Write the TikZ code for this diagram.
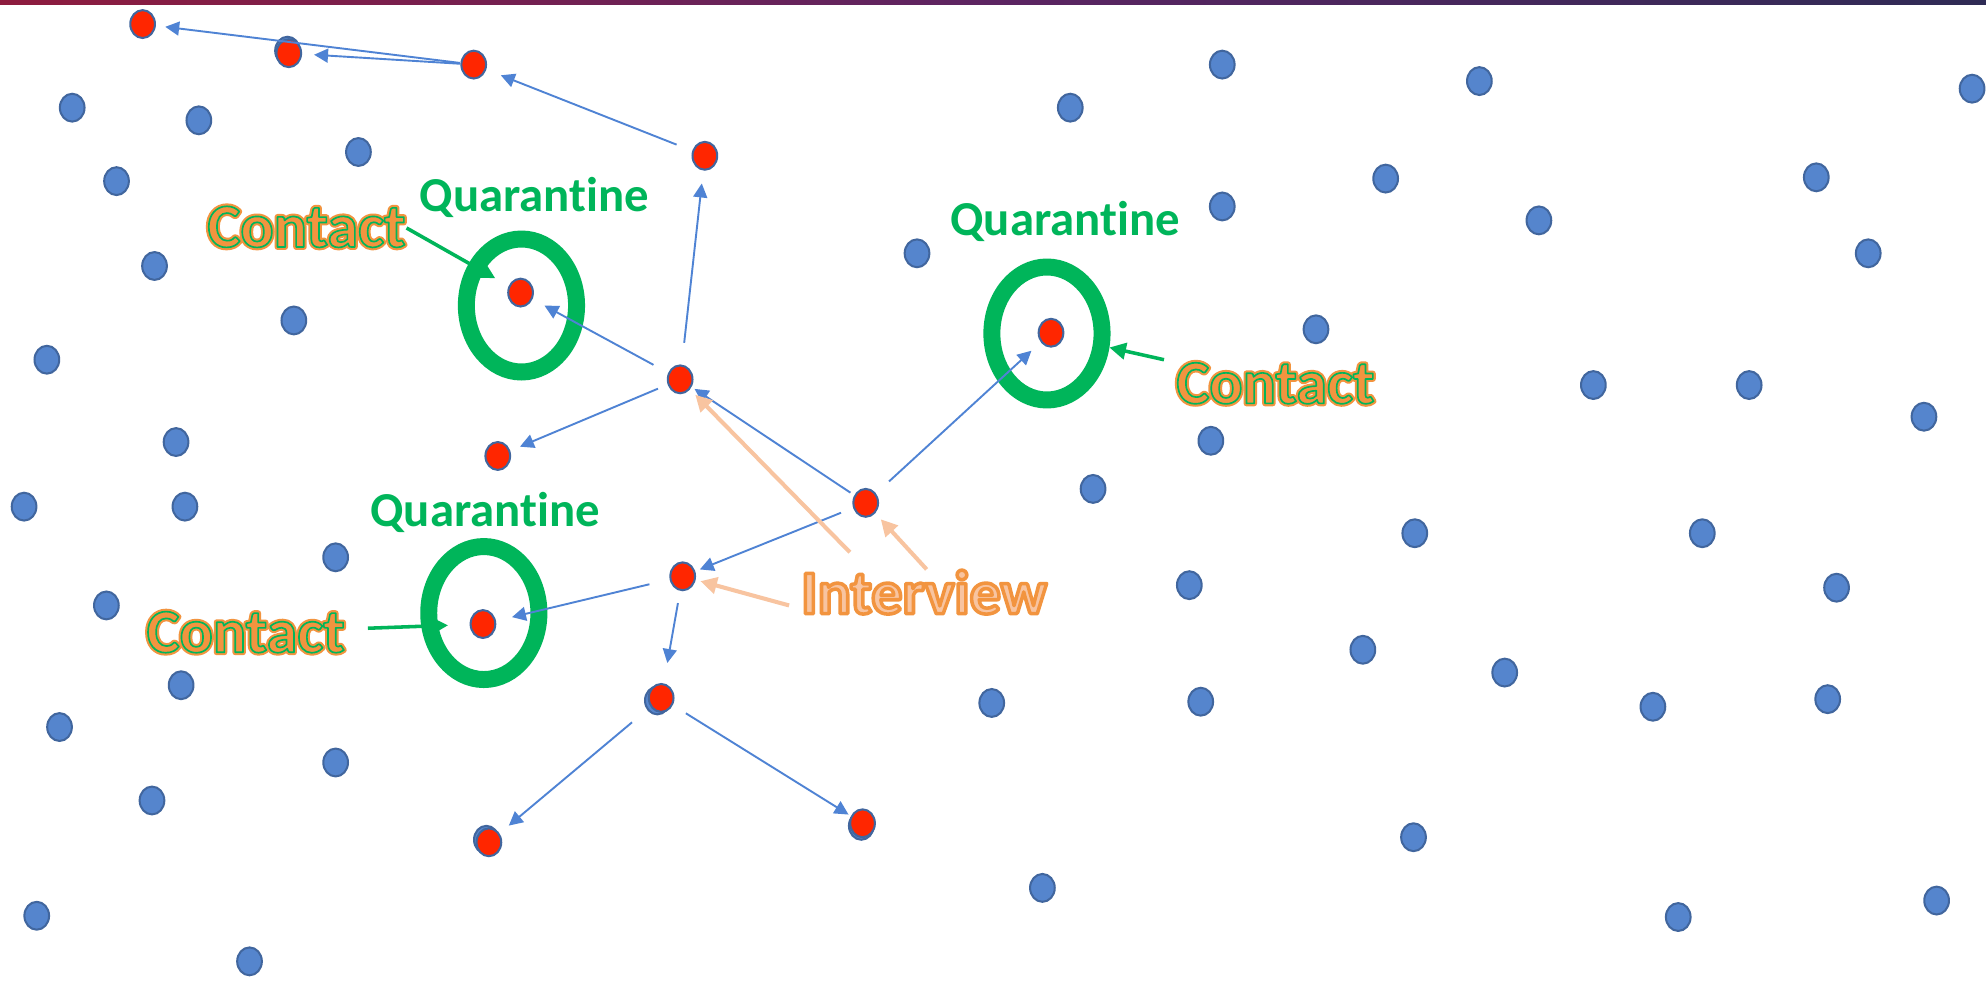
\documentclass[tikz,border=0pt]{standalone}
\usepackage{fontspec}
\setmainfont{Carlito}[Ligatures=NoCommon]
\usetikzlibrary{shapes.geometric,arrows.meta}
\definecolor{dotblue}{HTML}{5585CD}
\definecolor{dotedge}{HTML}{41669E}
\definecolor{dotred}{HTML}{FF2600}
\definecolor{lineblue}{HTML}{4F83D4}
\definecolor{cgreen}{HTML}{00B55A}
\definecolor{corange}{HTML}{F2943F}
\definecolor{cpeach}{HTML}{F8C4A0}
\definecolor{barL}{HTML}{8E1C3E}
\definecolor{barM}{HTML}{5C2462}
\definecolor{barR}{HTML}{2F2B55}
% #1 stroke colour (rgb), #2 stroke width, #3 text
\newcommand{\outlinetxt}[3]{\special{pdf:literal direct #1 RG #2 w 1 j 2 Tr}#3\special{pdf:literal direct 0 Tr}}
\begin{document}
\begin{tikzpicture}[x=1pt,y=-1pt,
  dot/.style={ellipse, minimum width=19.5pt, minimum height=22pt, inner sep=0pt, draw=dotedge, fill=dotblue, line width=1.6pt},
  reddot/.style={dot, fill=dotred},
  ring/.style={ellipse, minimum width=87pt, minimum height=105pt, inner sep=0pt, draw=cgreen, line width=13.4pt},
  barrow/.style={draw=lineblue, line width=1.5pt, -{Triangle[length=11pt,width=11pt]}},
  parrow/.style={draw=cpeach, line width=3.2pt, -{Triangle[length=13pt,width=13pt]}},
  garrow/.style={draw=cgreen, line width=2.8pt, -{Triangle[length=13pt,width=13pt]}},
  qtext/.style={anchor=base, inner sep=0pt, text=cgreen, font=\bfseries\fontsize{38.5}{40}\selectfont},
  ctext/.style={anchor=base, inner sep=0pt, text=corange, font=\bfseries\fontsize{49}{50}\selectfont},
  itext/.style={anchor=base, inner sep=0pt, text=cpeach, font=\bfseries\fontsize{49}{50}\selectfont}
]
\fill[white] (0,0) rectangle (1568,774.5);
\useasboundingbox (0,0) rectangle (1568,774.5);
\shade[left color=barL, right color=barR, middle color=barM] (0,0) rectangle (1568,3.5);

% blue dots
\foreach \x/\y [count=\i] in {57/85,157/95,283/120,92/143,122/210,232/253,37/284,139/349,19/400,146/400,265/440,84/478,143/541,47/574,265/602,120/632,29/723,197/759,845/85,965/51,1168/64,1557/70,1094/141,965/163,1215/174,1434/140,1475/200,724/200,1039/260,1258/304,1381/304,1519/329,956/348,863/386,1117/421,1344/421,1450/464,939/462,1076/513,1188/531,783/555,948/554,1305/558,1443/552,1116/661,823/701,1325/724,1529/711}
  \node[dot] (b\i) at (\x,\y) {};

% blue dots hidden behind some red dots
\node[dot] (h2) at (227,40) {};
\node[dot] (h11) at (519,553) {};
\node[dot] (h13) at (384,663) {};
\node[dot] (h14) at (680,652) {};

% quarantine rings
\node[ring] (e1) at (411.7,241.2) {};
\node[ring] (e2) at (826.6,263.3) {};
\node[ring] (e3) at (382,484) {};

% red dots
\node[reddot] (r1) at (112.6,19) {};
\node[reddot] (r2) at (228,42) {};
\node[reddot] (r3) at (374,51) {};
\node[reddot] (r4) at (556.5,123) {};
\node[reddot] (r5) at (411,231) {};
\node[reddot] (r6) at (537,299.5) {};
\node[reddot] (r7) at (393,360) {};
\node[reddot] (r8) at (683.5,397) {};
\node[reddot] (r9) at (539,455) {};
\node[reddot] (r10) at (381.3,492.7) {};
\node[reddot] (r11) at (522,551) {};
\node[reddot] (r12) at (829.8,262.7) {};
\node[reddot] (r13) at (386,665) {};
\node[reddot] (r14) at (681,650) {};

% transmission arrows
\draw[barrow, shorten <=11pt, shorten >=18pt] (r3.center) -- (r1.center);
\draw[barrow, shorten <=11pt, shorten >=20pt] (r3.center) -- (r2.center);
\draw[barrow, shorten <=24pt, shorten >=23pt] (r4.center) -- (r3.center);
\draw[barrow, shorten <=29pt, shorten >=22pt] (r6.center) -- (r4.center);
\draw[barrow, shorten <=24pt, shorten >=21.5pt] (r6.center) -- (r5.center);
\draw[barrow, shorten <=19pt, shorten >=19pt] (r6.center) -- (r7.center);
\draw[barrow, shorten <=14.5pt, shorten >=13.6pt] (r8.center) -- (r6.center);
\draw[barrow, shorten <=25pt, shorten >=21pt] (r8.center) -- (r12.center);
\draw[barrow, shorten <=21pt, shorten >=14.6pt] (r8.center) -- (r9.center);
\draw[barrow, shorten <=27pt, shorten >=23.6pt] (r9.center) -- (r10.center);
\draw[barrow, shorten <=21.5pt, shorten >=28pt] (r9.center) -- (r11.center);
\draw[barrow, shorten <=30pt, shorten >=20.5pt] (r11.center) -- (r13.center);
\draw[barrow, shorten <=23pt, shorten >=13pt] (r11.center) -- (r14.center);

% labels
\node[qtext] (q1) at (422,167) {Quarantine};
\node[qtext] (q2) at (841,186) {Quarantine};
\node[qtext] (q3) at (383,416) {Quarantine};

\node[ctext] (c1o) at (242,195) {\outlinetxt{0.949 0.580 0.247}{4.6}{Contact}};
\node[ctext] (c1) at (242,195) {\outlinetxt{0 0.710 0.353}{1.3}{Contact}};
\node[ctext] (c2o) at (1007,318.5) {\outlinetxt{0.949 0.580 0.247}{4.6}{Contact}};
\node[ctext] (c2) at (1007,318.5) {\outlinetxt{0 0.710 0.353}{1.3}{Contact}};
\node[ctext] (c3o) at (194,515) {\outlinetxt{0.949 0.580 0.247}{4.6}{Contact}};
\node[ctext] (c3) at (194,515) {\outlinetxt{0 0.710 0.353}{1.3}{Contact}};

\node[itext] (iv) at (729.5,484.5) {\outlinetxt{0.949 0.580 0.247}{2.8}{Interview}};

% interview arrows
\coordinate (i1) at (671,436);
\coordinate (i2) at (731.6,449.5);
\coordinate (i3) at (623,478);
\draw[parrow, shorten >=17pt] (i1) -- (r6.center);
\draw[parrow, shorten >=17.6pt] (i2) -- (r8.center);
\draw[parrow, shorten >=14.5pt] (i3) -- (r9.center);

% contact arrows
\coordinate (g1) at (321,180);
\coordinate (g2) at (919,284);
\coordinate (g3) at (290.5,496);
\draw[garrow, shorten >=23pt] (g1) -- (r5.center);
\draw[garrow] (g2) -- (e2);
\draw[garrow, shorten >=27.6pt] (g3) -- (r10.center);
\end{tikzpicture}
\end{document}
